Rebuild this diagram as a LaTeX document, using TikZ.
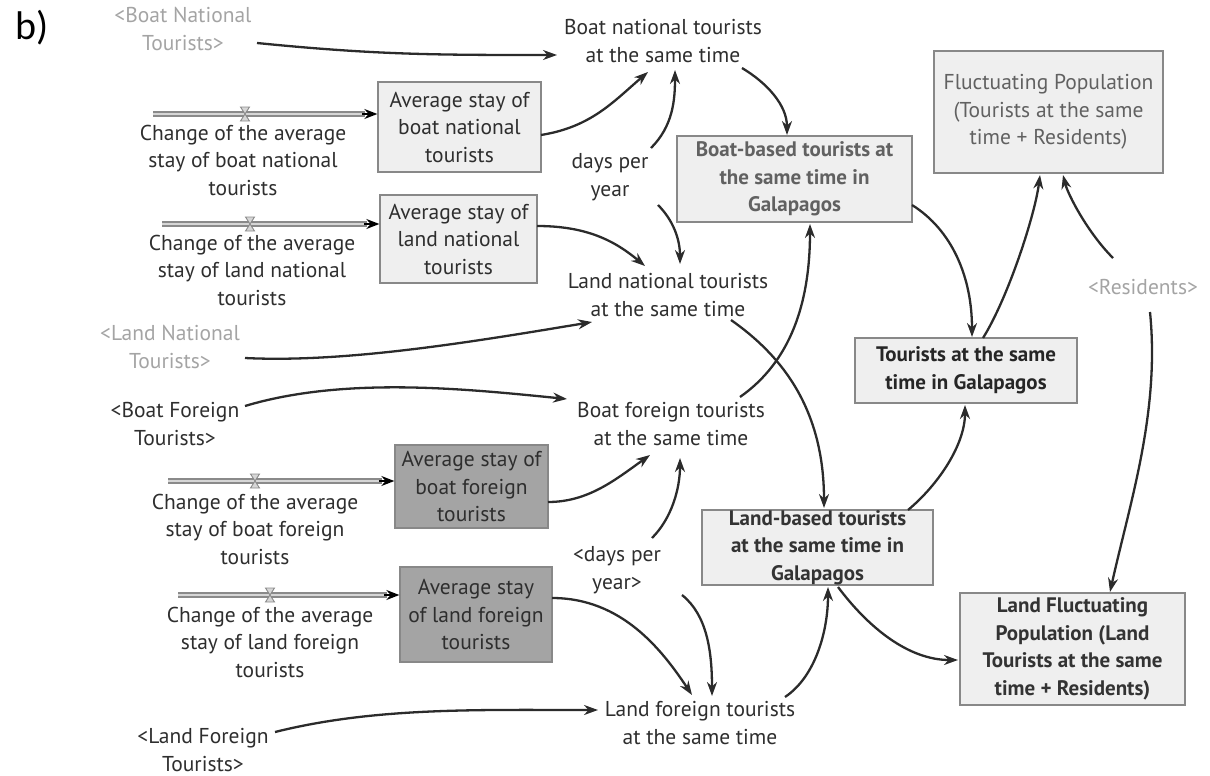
\documentclass[tikz,border=0pt]{standalone}
\usepackage{fontspec}
\setmainfont{PT Sans}
\newfontfamily\labelfont{Carlito}
\usetikzlibrary{arrows.meta,calc}

\definecolor{ink}{HTML}{2B2B2B}
\definecolor{txt}{HTML}{2E2E2E}
\definecolor{shadowtxt}{HTML}{A4A4A4}
\definecolor{boxline}{HTML}{888888}
\definecolor{lightfill}{HTML}{EFEFEF}
\definecolor{darkfill}{HTML}{A4A4A4}
\definecolor{pipeline}{HTML}{8A8A8A}
\definecolor{pipefill}{HTML}{D6D6D6}

\tikzset{
  every node/.style={font=\fontsize{21.5}{27.5}\selectfont, text=txt, align=center, inner sep=2pt},
  shadow/.style={text=shadowtxt},
  varbox/.style={draw=boxline, fill=lightfill, line width=1.3pt, inner sep=0pt},
  darkbox/.style={draw=boxline, fill=darkfill, line width=1.3pt, inner sep=0pt},
  boldtext/.style={font=\fontsize{21}{27.5}\selectfont\bfseries},
  link/.style={draw=ink, line width=2.3pt, -{Stealth[length=14pt,width=10pt]}},
  pipe/.style={draw=pipeline, line width=1.4pt, double=pipefill, double distance=2.4pt},
  pipehead/.style={draw=black, line width=1.4pt, -{Stealth[length=13pt,width=10pt]}},
  valveline/.style={draw=pipeline, line width=0.9pt, fill=pipefill},
}

\begin{document}
\begin{tikzpicture}[x=1pt, y=-1pt]
\useasboundingbox (0,0) rectangle (1210,776);

% panel label
\node[font=\fontsize{40}{42}\labelfont, text=black] (panel) at (32,28) {b)};

% shadow variables and auxiliaries
\node[shadow] (bnT) at (183,29) {<Boat National\\Tourists>};
\node[shadow] (lnT) at (170,347) {<Land National\\Tourists>};
\node[shadow] (res) at (1143,287) {<Residents>};
\node (bfT) at (175,424) {<Boat Foreign\\Tourists>};
\node (lfT) at (203,750) {<Land Foreign\\Tourists>};
\node (days1) at (610,177) {days per\\year};
\node (days2) at (617,570) {<days per\\year>};

\node (bnt) at (663,41) {Boat national tourists\\at the same time};
\node (lnt) at (668,295) {Land national tourists\\at the same time};
\node (bft) at (671,424) {Boat foreign tourists\\at the same time};
\node (lft) at (700,723) {Land foreign tourists\\at the same time};

% stock boxes
\node[varbox, minimum width=163pt, minimum height=90pt] (avbn) at (459.5,127) {Average stay of\\boat national\\tourists};
\node[varbox, minimum width=157pt, minimum height=88pt] (avln) at (458.5,239) {Average stay of\\land national\\tourists};
\node[darkbox, minimum width=153pt, minimum height=83pt] (avbf) at (471.5,486.5) {Average stay of\\boat foreign\\tourists};
\node[darkbox, minimum width=152pt, minimum height=95pt] (avlf) at (476,614.5) {Average stay\\of land foreign\\tourists};

% aggregate boxes
\node[varbox, boldtext, text=black!62, minimum width=235pt, minimum height=86pt] (bb) at (794.5,179) {Boat-based tourists at\\the same time in\\Galapagos};
\node[varbox, boldtext, text=black!80, minimum width=231pt, minimum height=75pt] (lb) at (817.5,547.5) {Land-based tourists\\at the same time in\\Galapagos};
\node[varbox, boldtext, text=black!85, minimum width=222pt, minimum height=65pt] (tst) at (966,370.5) {Tourists at the same\\time in Galapagos};
\node[varbox, text=black!62, minimum width=229pt, minimum height=122pt] (fp) at (1048.5,112) {Fluctuating Population\\(Tourists at the same\\time + Residents)};
\node[varbox, boldtext, text=black!80, minimum width=225pt, minimum height=112pt] (lfp) at (1072.5,649) {Land Fluctuating\\Population (Land\\Tourists at the same\\time + Residents)};

% flows into the average-stay stocks
\coordinate (p1) at (153,114);
\coordinate (p2) at (162,224);
\coordinate (p3) at (168,481);
\coordinate (p4) at (178,595);
\coordinate (v1) at (245,114);
\coordinate (v2) at (250,224);
\coordinate (v3) at (255,481);
\coordinate (v4) at (270,595);

\foreach \p/\b in {p1/avbn, p2/avln, p3/avbf, p4/avlf}{
  \draw[pipe] (\p) -- ($(\p -| \b.west)+(-12,0)$);
  \draw[pipehead] ($(\p -| \b.west)+(-15,0)$) -- (\p -| \b.west);
}
\foreach \v in {v1,v2,v3,v4}{
  \draw[valveline] ($(\v)+(-4.5,-7)$) -- ++(9,0) -- ++(-9,14) -- ++(9,0) -- cycle;
}

\node (c1) at (243,160) {Change of the average\\stay of boat national\\tourists};
\node (c2) at (252,270) {Change of the average\\stay of land national\\tourists};
\node (c3) at (255,529) {Change of the average\\stay of boat foreign\\tourists};
\node (c4) at (270,642) {Change of the average\\stay of land foreign\\tourists};

% causal links
\draw[link] ($(bnT)+(74,14)$) .. controls +(120,12) and +(-120,0) .. ($(bnt)+(-106,14)$);
\draw[link] ($(avbn)+(81.5,8)$) .. controls +(50,-8) and +(-35,30) .. ($(bnt)+(-15,31)$);
\draw[link] ($(days1)+(41,-29)$) .. controls +(22,-22) and +(0,30) .. ($(bnt)+(12,29)$);
\draw[link] ($(avln)+(78.5,-13)$) .. controls +(50,0) and +(-30,-25) .. ($(lnt)+(-23,-29)$);
\draw[link] ($(days1)+(48,28)$) .. controls +(15,15) and +(0,-25) .. ($(lnt)+(12,-31)$);
\draw[link] ($(bnt)+(79,27)$) .. controls +(25,15) and +(0,-30) .. ($(bb)+(-7.5,-44)$);
\draw[link] ($(lnt)+(63,25)$) .. controls +(50,35) and +(0,-100) .. ($(lb)+(6.5,-39.5)$);
\draw[link] ($(bft)+(69,-27)$) .. controls +(50,-35) and +(0,80) .. ($(bb)+(15.5,45)$);
\draw[link] ($(bb)+(117.5,26)$) .. controls +(40,25) and +(0,-60) .. ($(tst)+(6,-33.5)$);
\draw[link] ($(tst)+(17,-32.5)$) .. controls +(25,-40) and +(-5,40) .. ($(fp)+(-8.5,63)$);
\draw[link] ($(res)+(-30,-29)$) .. controls +(-25,-25) and +(5,20) .. ($(fp)+(14.5,63)$);
\draw[link] ($(res)+(7,25)$) .. controls +(10,100) and +(20,-90) .. ($(lfp)+(37.5,-57)$);
\draw[link] ($(lb)+(90.5,-37.5)$) .. controls +(30,-25) and +(0,40) .. ($(tst)+(-1,34.5)$);
\draw[link] ($(lb)+(20.5,39.5)$) .. controls +(30,40) and +(-50,0) .. ($(lfp)+(-114.5,11)$);
\draw[link] ($(lft)+(85,-26)$) .. controls +(30,-20) and +(0,45) .. ($(lb)+(10.5,39.5)$);
\draw[link] ($(lnT)+(75,11)$) .. controls +(100,5) and +(-120,20) .. ($(lnt)+(-76,27)$);
\draw[link] ($(bfT)+(70,-18)$) .. controls +(100,-30) and +(-100,-10) .. ($(bft)+(-104,-25)$);
\draw[link] ($(avbf)+(76.5,15.5)$) .. controls +(40,0) and +(-35,25) .. ($(bft)+(-21,31)$);
\draw[link] ($(days2)+(35,-32)$) .. controls +(20,-20) and +(0,30) .. ($(bft)+(9,34)$);
\draw[link] ($(days2)+(65,25)$) .. controls +(25,20) and +(0,-45) .. ($(lft)+(12,-27)$);
\draw[link] ($(avlf)+(76,-16.5)$) .. controls +(70,0) and +(-30,-45) .. ($(lft)+(-8,-28)$);
\draw[link] ($(lfT)+(72,-18)$) .. controls +(100,-25) and +(-120,0) .. ($(lft)+(-102,-13)$);
\end{tikzpicture}
\end{document}
